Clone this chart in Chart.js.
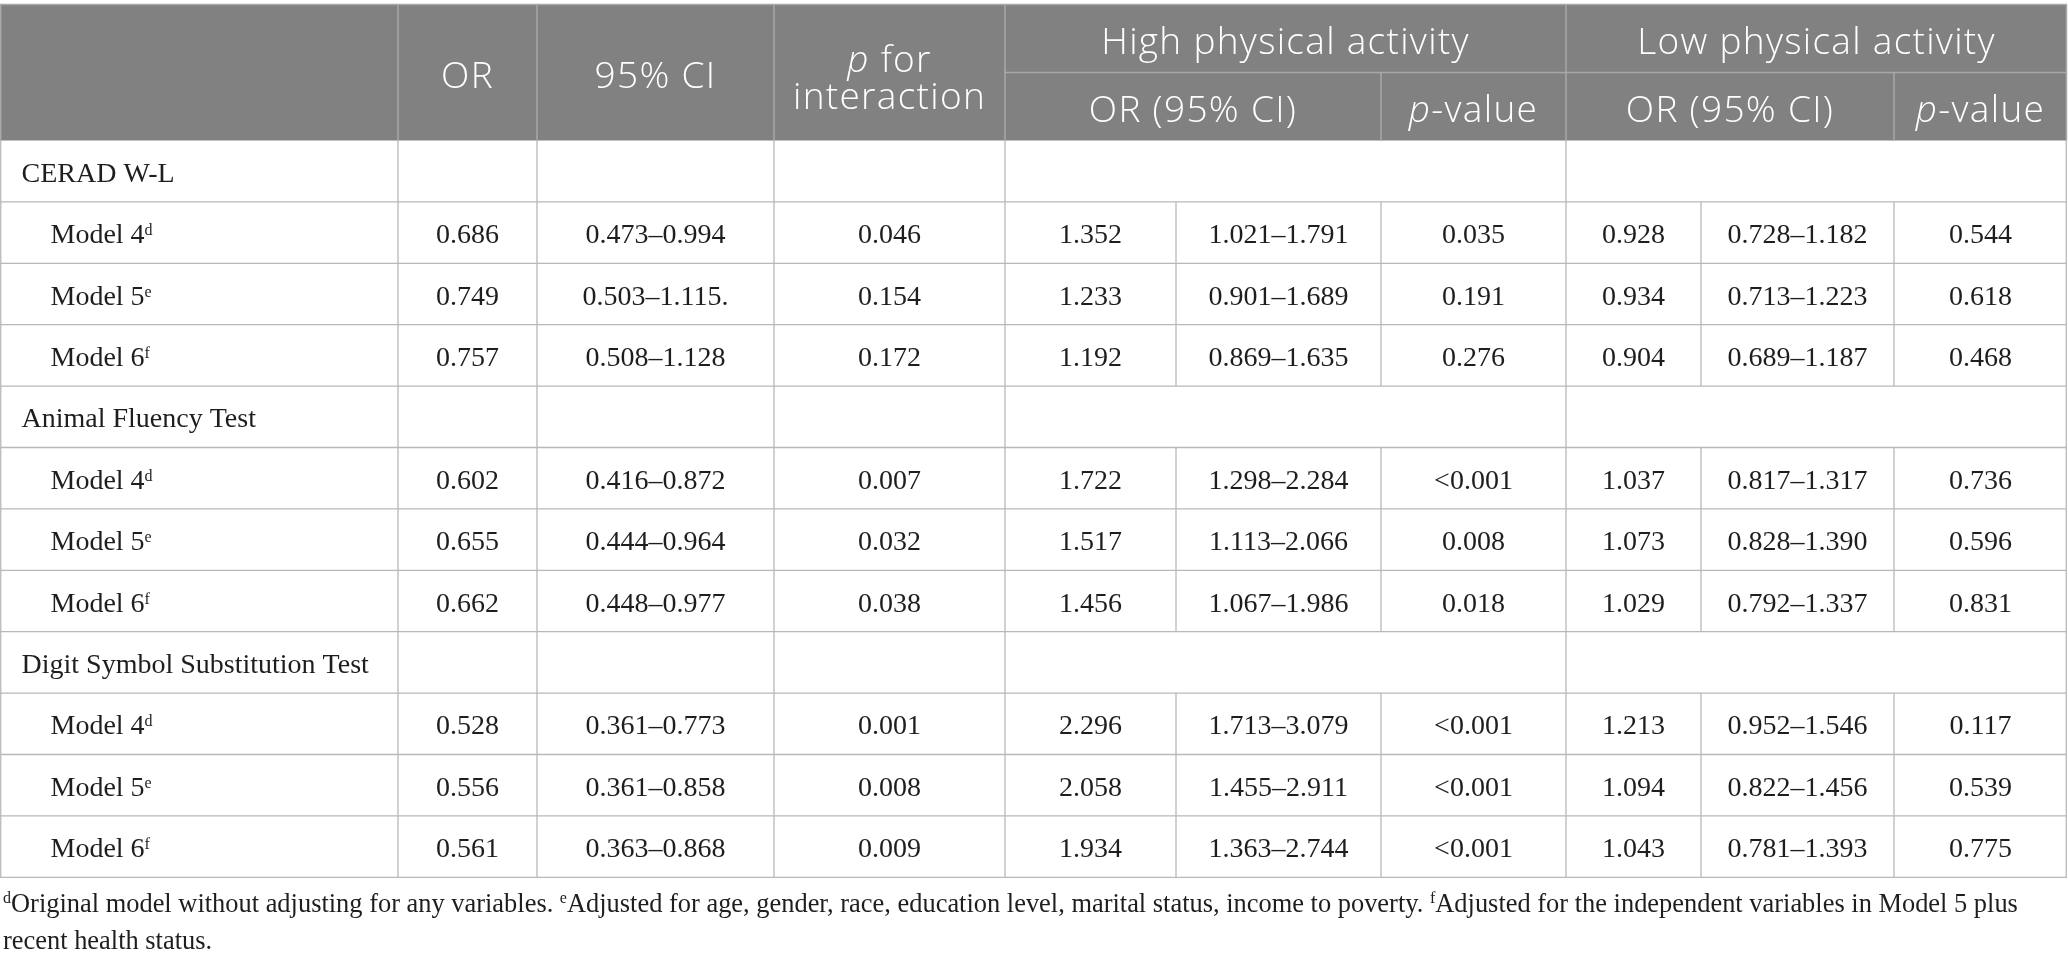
<!DOCTYPE html>
<html>
<head>
<meta charset="utf-8">
<script src="https://cdn.jsdelivr.net/npm/chart.js@4.4.1/dist/chart.umd.min.js"></script>
<style>
html,body{margin:0;padding:0;background:#ffffff;}
#wrap{width:2068px;height:967px;position:relative;}
</style>
</head>
<body>
<div id="wrap"><canvas id="c"></canvas></div>
<script>
// ---------- DATA ----------
const groupNames = ["CERAD W-L", "Animal Fluency Test", "Digit Symbol Substitution Test"];
const modelNames = ["Model 4", "Model 5", "Model 6"];
const modelMarks = ["d", "e", "f"];
const orValues     = ["0.686","0.749","0.757","0.602","0.655","0.662","0.528","0.556","0.561"];
const ciValues     = ["0.473–0.994","0.503–1.115.","0.508–1.128","0.416–0.872","0.444–0.964","0.448–0.977","0.361–0.773","0.361–0.858","0.363–0.868"];
const pInteraction = ["0.046","0.154","0.172","0.007","0.032","0.038","0.001","0.008","0.009"];
const highOR       = ["1.352","1.233","1.192","1.722","1.517","1.456","2.296","2.058","1.934"];
const highCI       = ["1.021–1.791","0.901–1.689","0.869–1.635","1.298–2.284","1.113–2.066","1.067–1.986","1.713–3.079","1.455–2.911","1.363–2.744"];
const highP        = ["0.035","0.191","0.276","<0.001","0.008","0.018","<0.001","<0.001","<0.001"];
const lowOR        = ["0.928","0.934","0.904","1.037","1.073","1.029","1.213","1.094","1.043"];
const lowCI        = ["0.728–1.182","0.713–1.223","0.689–1.187","0.817–1.317","0.828–1.390","0.792–1.337","0.952–1.546","0.822–1.456","0.781–1.393"];
const lowP         = ["0.544","0.618","0.468","0.736","0.596","0.831","0.117","0.539","0.775"];
const spanHeaders  = ["High physical activity", "Low physical activity"];
const footnoteLine1 = [
  {sup:"d"}, {t:"Original model without adjusting for any variables. "},
  {sup:"e"}, {t:"Adjusted for age, gender, race, education level, marital status, income to poverty. "},
  {sup:"f"}, {t:"Adjusted for the independent variables in Model 5 plus"}
];
const footnoteLine2 = [{t:"recent health status."}];

// ---------- LAYOUT ----------
const W = 2068, H = 967;
const colEdges = [0, 398, 537, 774, 1005, 1176, 1381, 1566, 1701, 1894, 2067];
const headTop = 4.5, headMid = 72.5, headBot = 140.5, rowH = 61.4;
const HEAD_BG = "#808180", HEAD_LINE = "#a8a8a8", BODY_LINE = "#b9b9b9", TEXT = "#1e1e1e";
const SERIF = '"Liberation Serif", "Times New Roman", serif';
const SANS = '"Open Sans", "Noto Sans", sans-serif';
const HEAD_SIZE = 37, HEAD_WEIGHT = "300", HEAD_LS = "1.3px";
const BODY_SIZE = 28;

function drawRuns(ctx, runs, x, y, align) {
  let total = 0;
  runs.forEach(r => {
    ctx.font = r.font; ctx.letterSpacing = r.ls || "0px";
    r.w = ctx.measureText(r.t).width; total += r.w;
  });
  let cx = align === "center" ? x - total / 2 : x;
  runs.forEach(r => {
    ctx.font = r.font; ctx.letterSpacing = r.ls || "0px";
    ctx.fillStyle = r.color;
    ctx.fillText(r.t, cx, y + (r.dy || 0));
    cx += r.w;
  });
  ctx.letterSpacing = "0px";
  return total;
}

const tablePlugin = {
  id: "tablePlugin",
  afterDraw(chart) {
    const ctx = chart.ctx;
    const xs = chart.scales.x, ys = chart.scales.y;
    const X = v => xs.getPixelForValue(v);
    const Y = v => ys.getPixelForValue(v);
    ctx.save();
    ctx.textAlign = "left";
    ctx.textBaseline = "alphabetic";

    // header background
    ctx.fillStyle = HEAD_BG;
    ctx.fillRect(X(0), Y(headTop), X(colEdges[10]) - X(0), Y(headBot) - Y(headTop));

    const line = (x1, y1, x2, y2, c, w) => {
      ctx.strokeStyle = c; ctx.lineWidth = w;
      ctx.beginPath(); ctx.moveTo(X(x1), Y(y1)); ctx.lineTo(X(x2), Y(y2)); ctx.stroke();
    };
    // header lines
    line(0, headTop, colEdges[10], headTop, HEAD_LINE, 1.5);
    line(colEdges[4], headMid, colEdges[10], headMid, HEAD_LINE, 1.5);
    [0, 1, 2, 3, 4, 7].forEach(i => line(colEdges[i] + (i === 0 ? 0.75 : 0), headTop, colEdges[i] + (i === 0 ? 0.75 : 0), headBot, HEAD_LINE, 1.5));
    [6, 9].forEach(i => line(colEdges[i], headMid, colEdges[i], headBot, HEAD_LINE, 1.5));
    line(colEdges[10] - 0.5, headTop, colEdges[10] - 0.5, headBot, HEAD_LINE, 1.5);

    // header text (baselines)
    const hf = (it) => (it ? "italic " : "") + HEAD_WEIGHT + " " + HEAD_SIZE + "px " + SANS;
    const hrun = (t, it) => ({t, font: hf(it), ls: HEAD_LS, color: "#ffffff"});
    const cc = (a, b) => (colEdges[a] + colEdges[b]) / 2;
    drawRuns(ctx, [hrun("OR")], X(cc(1, 2)), Y(87.5), "center");
    drawRuns(ctx, [hrun("95% CI")], X(cc(2, 3)), Y(87.5), "center");
    drawRuns(ctx, [hrun("p", true), hrun(" for")], X(cc(3, 4)), Y(71.5), "center");
    drawRuns(ctx, [hrun("interaction")], X(cc(3, 4)), Y(108.5), "center");
    drawRuns(ctx, [hrun(spanHeaders[0])], X(cc(4, 7)), Y(53.5), "center");
    drawRuns(ctx, [hrun(spanHeaders[1])], X(cc(7, 10)), Y(53.5), "center");
    drawRuns(ctx, [hrun("OR (95% CI)")], X(cc(4, 6)), Y(121.5), "center");
    drawRuns(ctx, [hrun("p", true), hrun("-value")], X(cc(6, 7)), Y(121.5), "center");
    drawRuns(ctx, [hrun("OR (95% CI)")], X(cc(7, 9)), Y(121.5), "center");
    drawRuns(ctx, [hrun("p", true), hrun("-value")], X(cc(9, 10)), Y(121.5), "center");

    // body
    const bf = BODY_SIZE + "px " + SERIF;
    const sf = Math.round(BODY_SIZE * 0.58) + "px " + SERIF;
    const cols = [orValues, ciValues, pInteraction, highOR, highCI, highP, lowOR, lowCI, lowP];
    let r = 0;
    for (let g = 0; g < groupNames.length; g++) {
      const top = headBot + r * rowH;
      [0, 1, 2, 3, 4, 7].forEach(i => line(colEdges[i] + (i === 0 ? 0.75 : 0), top, colEdges[i] + (i === 0 ? 0.75 : 0), top + rowH, BODY_LINE, 1.3));
      line(colEdges[10] - 0.75, top, colEdges[10] - 0.75, top + rowH, BODY_LINE, 1.3);
      drawRuns(ctx, [{t: groupNames[g], font: bf, color: TEXT}], X(21.5), Y(top + rowH / 2 + 10.5), "left");
      r++;
      for (let m = 0; m < modelNames.length; m++) {
        const k = g * 3 + m;
        const t2 = headBot + r * rowH;
        colEdges.forEach((e, i) => {
          const xx = i === 0 ? 0.75 : (i === 10 ? e - 0.75 : e);
          line(xx, t2, xx, t2 + rowH, BODY_LINE, 1.3);
        });
        const base = t2 + rowH / 2 + 10.5;
        drawRuns(ctx, [{t: modelNames[m], font: bf, color: TEXT},
                       {t: modelMarks[m], font: sf, color: TEXT, dy: -8}], X(50.5), Y(base), "left");
        cols.forEach((arr, ci) => {
          drawRuns(ctx, [{t: arr[k], font: bf, color: TEXT}], X(cc(ci + 1, ci + 2)), Y(base), "center");
        });
        r++;
      }
    }
    for (let i = 1; i <= r; i++) {
      line(0, headBot + i * rowH, colEdges[10], headBot + i * rowH, BODY_LINE, 1.3);
    }

    // footnotes (first line fitted to its width in the reference)
    const targetW = 2016;
    const mk = (parts, size) => parts.map(p => p.sup
      ? {t: p.sup, font: Math.round(size * 0.6) + "px " + SERIF, color: TEXT, dy: -size * 0.33}
      : {t: p.t, font: size + "px " + SERIF, color: TEXT});
    let tw = 0;
    mk(footnoteLine1, 28).forEach(p => { ctx.font = p.font; tw += ctx.measureText(p.t).width; });
    const fs = 28 * targetW / tw;
    drawRuns(ctx, mk(footnoteLine1, fs), X(3), Y(912), "left");
    drawRuns(ctx, mk(footnoteLine2, fs), X(3), Y(949), "left");
    ctx.restore();
  }
};

new Chart(document.getElementById("c"), {
  type: "scatter",
  data: { datasets: [] },
  options: {
    responsive: true,
    maintainAspectRatio: false,
    animation: false,
    events: [],
    layout: { padding: 0 },
    plugins: { legend: { display: false }, tooltip: { enabled: false } },
    scales: {
      x: { type: "linear", min: 0, max: W, display: false },
      y: { type: "linear", min: 0, max: H, reverse: true, display: false }
    }
  },
  plugins: [tablePlugin]
});
</script>
</body>
</html>
